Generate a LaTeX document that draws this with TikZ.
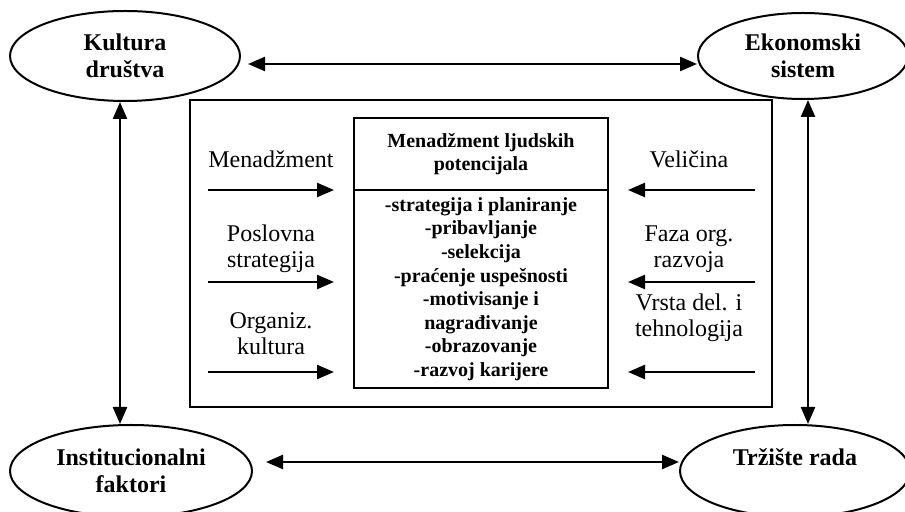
\documentclass[tikz,border=0pt]{standalone}
\usepackage{fontspec}
\setmainfont{Liberation Serif}
\usetikzlibrary{shapes.geometric,arrows.meta}

\begin{document}
\begin{tikzpicture}[x=0.5pt,y=-0.5pt,
	okrug/.style={ellipse,
		draw = black,
		line width = 1pt,
		inner sep = 0pt,
		align = center,
		font = \bfseries\fontsize{12}{13.5}\selectfont},
	kutija/.style={rectangle,
		draw = black,
		line width = 1pt,
		align = center,
		font = \bfseries\fontsize{10}{11.8}\selectfont},
	oznaka/.style={align = center,
		font = \fontsize{12}{13}\selectfont},
	strel/.style={-{Triangle[length=8.5pt,width=7pt]}, line width = 1.2pt},
	dvostr/.style={{Triangle[length=8.5pt,width=7pt]}-{Triangle[length=8.5pt,width=7pt]}, line width = 1.2pt}]
	
	\useasboundingbox (0,0) rectangle (905,512);
	
	% spoljni faktori
	\node[okrug,
	minimum width = 115pt,
	minimum height = 45pt] (kultura) at (125,56) {Kultura\\društva};
	
	\node[okrug,
	minimum width = 105pt,
	minimum height = 43pt] (ekon) at (803,56) {Ekonomski\\sistem};
	
	\node[okrug,
	minimum width = 121pt,
	minimum height = 46pt] (inst) at (131,471) {Institucionalni\\faktori};
	
	\node[okrug,
	minimum width = 115pt,
	minimum height = 46pt] (trziste) at (795,471) {Tržište rada\\\mbox{}};
	
	\draw[dvostr, shorten <=3.5pt] ([yshift=-4pt]kultura.east) to ([yshift=-4pt]ekon.west);
	\draw[dvostr, shorten <=6.5pt] ([yshift=4.5pt]inst.east) to ([yshift=4.5pt]trziste.west);
	\draw[dvostr] ([xshift=-2.5pt]kultura.south) to ([xshift=-2.5pt]kultura.south |- inst.north);
	\draw[dvostr] ([xshift=2.5pt]ekon.south) to ([xshift=2.5pt]ekon.south |- trziste.north);
	
	% organizacija
	\node[rectangle,
	draw = black,
	line width = 1.2pt,
	minimum width = 291pt,
	minimum height = 153.5pt] (okvir) at (481,253.5) {};
	
	\node[kutija,
	minimum width = 127pt,
	minimum height = 36pt] (naslov) at (481,154) {Menadžment ljudskih\\potencijala};
	
	\node[kutija,
	minimum width = 127pt,
	minimum height = 99pt] (lista) at (481,289) {-strategija i planiranje\\-pribavljanje\\-selekcija\\-praćenje uspešnosti\\-motivisanje i\\nagrađivanje\\-obrazovanje\\-razvoj karijere};
	
	% unutrasnji faktori levo
	\node[oznaka] (menadzment) at (271,159) {Menadžment};
	\node[oznaka] (strategija) at (271,249) {Poslovna\\strategija};
	\node[oznaka] (orgkultura) at (271,334) {Organiz.\\kultura};
	
	\coordinate (ul1) at (208,190);
	\coordinate (ul2) at (208,282);
	\coordinate (ul3) at (208,372);
	
	\draw[strel, shorten >=9.5pt] (ul1) to (ul1 -| lista.west);
	\draw[strel, shorten >=9.5pt] (ul2) to (ul2 -| lista.west);
	\draw[strel, shorten >=9.5pt] (ul3) to (ul3 -| lista.west);
	
	% unutrasnji faktori desno
	\node[oznaka] (velicina) at (689,159) {Veličina};
	\node[oznaka] (faza) at (689,249) {Faza org.\\razvoja};
	\node[oznaka] (vrsta) at (689,318) {Vrsta del. i\\tehnologija};
	
	\coordinate (ud1) at (755,190);
	\coordinate (ud2) at (755,282);
	\coordinate (ud3) at (755,372);
	
	\draw[strel, shorten >=9.5pt] (ud1) to (ud1 -| lista.east);
	\draw[strel, shorten >=9.5pt] (ud2) to (ud2 -| lista.east);
	\draw[strel, shorten >=9.5pt] (ud3) to (ud3 -| lista.east);
	
\end{tikzpicture}
\end{document}
